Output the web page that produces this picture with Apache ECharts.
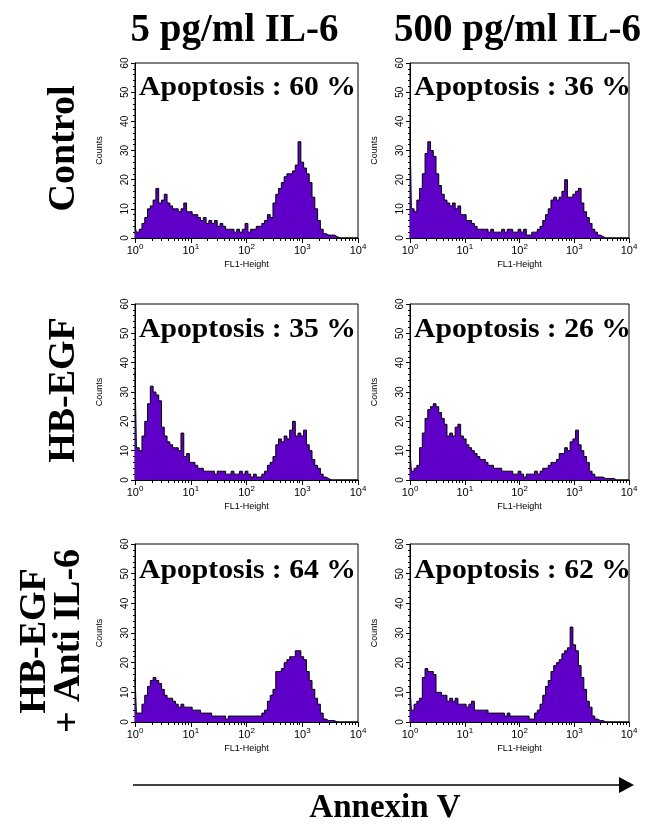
<!DOCTYPE html>
<html><head><meta charset="utf-8">
<script src="https://cdn.jsdelivr.net/npm/echarts@6/dist/echarts.min.js"></script>
<style>html,body{margin:0;padding:0;background:#fff}#c{width:648px;height:825px}</style>
</head><body><div id="c"></div>
<script>
// ---- data ----
const columnTitles = ['5 pg/ml IL-6', '500 pg/ml IL-6'];
const rowTitles = [['Control'], ['HB-EGF'], ['HB-EGF', '+ Anti IL-6']];
const apoptosisPct = [60, 36, 35, 26, 64, 62];
const xAxisName = 'FL1-Height';
const yAxisName = 'Counts';
const bottomLabel = 'Annexin V';
const channelsPerDecade = 20; // histogram channel spacing on the log axis
// counts per channel, channel i at 10^(i/20), i = 0..80
const control5 = [4,2,3,5,7,10,11,13,17,12,13,15,12,11,10,10,9,10,12,9,
  9,8,8,7,6,7,5,6,5,6,4,5,4,3,3,3,2,3,2,3,
  5,2,3,3,4,4,5,6,8,7,12,15,17,19,21,22,22,23,25,33,
  26,24,22,19,14,10,6,3,1.5,1,1,1,0.5,0,0,0,0,0,0,0,0];
const control500 = [38,10,9,13,17,22,29,33,30,28,22,18,15,13,12,11,12,10,11,8,
  8,6,6,5,4,3,3,3,3,2,3,2,2,2,3,2,3,3,2,2,
  3,2,3,1,1,2,2,3,4,6,8,10,13,14,13,14,16,20,14,14,
  15,16,17,12,9,7,5,3,2,1,0.5,0,0,0,0,0,0,0,0,0,0];
const hbegf5 = [37,11,10,15,20,26,32,30,29,27,18,15,13,12,11,11,10,16,8,9,
  6,6,5,4,4,3,3,3,3,2,3,3,3,2,2,3,2,2,3,2,
  3,2,1,2,1,1,2,3,5,6,8,12,14,13,15,14,17,20,15,16,
  15,17,12,10,7,5,4,2,1,0.5,0,0,0,0,0,0,0,0,0,0,0];
const hbegf500 = [10,3,4,5,11,16,21,24,25,26,25,23,21,19,15,16,15,18,19,15,
  14,12,11,10,9,8,7,7,6,5,5,4,4,4,3,3,3,3,2,2,
  3,2,1,2,2,2,3,2,3,4,4,5,6,6,7,9,9,11,10,13,
  14,17,12,10,8,6,3,2,1,1,1,0.5,0.5,0.5,0.5,0,0,0,0,0,0];
const antiIl6_5 = [15,3,3,6,9,12,14,15,14,13,11,9,8,8,7,6,5,6,5,5,
  5,4,4,4,3,3,3,3,2,2,2,2,2,1,2,2,2,2,2,2,
  2,2,2,2,2,2,3,4,7,9,11,17,17,18,20,21,22,22,24,24,
  22,21,17,14,11,8,6,3,1,0.5,0.5,0.5,0,0,0,0,0,0,0,0,0];
const antiIl6_500 = [12,4,6,7,8,15,18,17,17,16,10,10,9,9,7,8,7,8,6,6,
  6,5,6,7,4,4,4,4,4,3,3,3,3,3,3,2,3,2,2,2,
  2,2,2,2,1,1,3,4,6,9,12,14,17,19,20,21,23,24,25,32,
  26,24,19,15,11,7,5,2,1,0.5,0.5,0,0,0,0,0,0,0,0,0,0];
const panels = [control5, control500, hbegf5, hbegf500, antiIl6_5, antiIl6_500];

// ---- layout ----
const colLeft = [135, 410], colWidth = [223, 219];
const rowTop = [63, 304, 544], rowHeight = [175, 176, 178];
const FILL = '#5f00c8';
const SANS = '"Liberation Sans", Arial, sans-serif';
const SERIF = '"Liberation Serif", "Times New Roman", serif';

const grids = [], xAxes = [], yAxes = [], series = [], graphics = [];
panels.forEach((counts, k) => {
  const r = Math.floor(k / 2), c = k % 2;
  grids.push({left: colLeft[c], top: rowTop[r], width: colWidth[c], height: rowHeight[r],
    show: true, borderColor: '#000', borderWidth: 1, backgroundColor: '#fff'});
  xAxes.push({type: 'log', logBase: 10, min: 1, max: 10000, gridIndex: k,
    axisLine: {show: true, lineStyle: {color: '#000', width: 1}},
    axisTick: {show: true, length: 5, lineStyle: {color: '#000'}},
    minorTick: {show: true, splitNumber: 9, length: 3, lineStyle: {color: '#000'}},
    splitLine: {show: false},
    axisLabel: {color: '#000', fontFamily: SANS, fontSize: 11, margin: 5,
      showMinLabel: true, showMaxLabel: true,
      formatter: v => '10{s|' + Math.round(Math.log10(v)) + '}',
      rich: {s: {fontSize: 8, fontFamily: SANS, color: '#000', padding: [0, 0, 7, 0]}}},
    name: xAxisName, nameLocation: 'middle', nameGap: 22,
    nameTextStyle: {color: '#000', fontFamily: SANS, fontSize: 9}});
  yAxes.push({type: 'value', min: 0, max: 60, interval: 10, gridIndex: k,
    axisLine: {show: true, lineStyle: {color: '#000', width: 1}},
    axisTick: {show: true, length: 4, lineStyle: {color: '#000'}},
    minorTick: {show: true, splitNumber: 5, length: 2, lineStyle: {color: '#000'}},
    splitLine: {show: false},
    axisLabel: {color: '#000', fontFamily: SANS, fontSize: 10, rotate: 90, margin: 5},
    name: yAxisName, nameLocation: 'middle', nameGap: 31,
    nameTextStyle: {color: '#000', fontFamily: SANS, fontSize: 9}});
  series.push({type: 'line', xAxisIndex: k, yAxisIndex: k, symbol: 'none', showSymbol: false,
    step: 'middle',
    data: counts.map((v, i) => [Math.pow(10, i / channelsPerDecade), v]),
    lineStyle: {color: '#000', width: 1}, areaStyle: {color: FILL, opacity: 1},
    z: 2, animation: false});
  graphics.push({type: 'text', x: colLeft[c] + 4, y: rowTop[r] + 25 + r, scaleX: 1.1, z: 10,
    style: {text: 'Apoptosis : ' + apoptosisPct[k] + ' %', font: 'bold 27px ' + SERIF,
      fill: '#000', textAlign: 'left', textVerticalAlign: 'middle', verticalAlign: 'middle'}});
});

// column headers
columnTitles.forEach((t, c) => {
  graphics.push({type: 'text', x: colLeft[c] + colWidth[c] / 2 + (c ? -2 : -12), y: 31,
    style: {text: t, font: 'bold 39px ' + SERIF, fill: '#000', textAlign: 'center',
      textVerticalAlign: 'middle', verticalAlign: 'middle'}});
});
// row labels (rotated)
rowTitles.forEach((lines, r) => {
  const cy = rowTop[r] + rowHeight[r] / 2 + (r === 2 ? 8 : -2);
  lines.forEach((t, j) => {
    const x = lines.length === 1 ? 64 : (j === 0 ? 35 : 69);
    graphics.push({type: 'text', x: x, y: cy, rotation: Math.PI / 2,
      style: {text: t, font: 'bold 38px ' + SERIF, fill: '#000', textAlign: 'center',
        textVerticalAlign: 'middle', verticalAlign: 'middle'}});
  });
});
// bottom arrow
graphics.push({type: 'line', shape: {x1: 133, y1: 785, x2: 622, y2: 785},
  style: {stroke: '#000', lineWidth: 1.5}});
graphics.push({type: 'polygon', shape: {points: [[619, 777], [634, 785], [619, 793]]},
  style: {fill: '#000'}});
graphics.push({type: 'text', x: 385, y: 808,
  style: {text: bottomLabel, font: 'bold 33px ' + SERIF, fill: '#000', textAlign: 'center',
    textVerticalAlign: 'middle', verticalAlign: 'middle'}});

const chart = echarts.init(document.getElementById('c'), null, {renderer: 'canvas'});
chart.setOption({animation: false, backgroundColor: '#fff',
  grid: grids, xAxis: xAxes, yAxis: yAxes, series: series, graphic: graphics});
</script></body></html>
